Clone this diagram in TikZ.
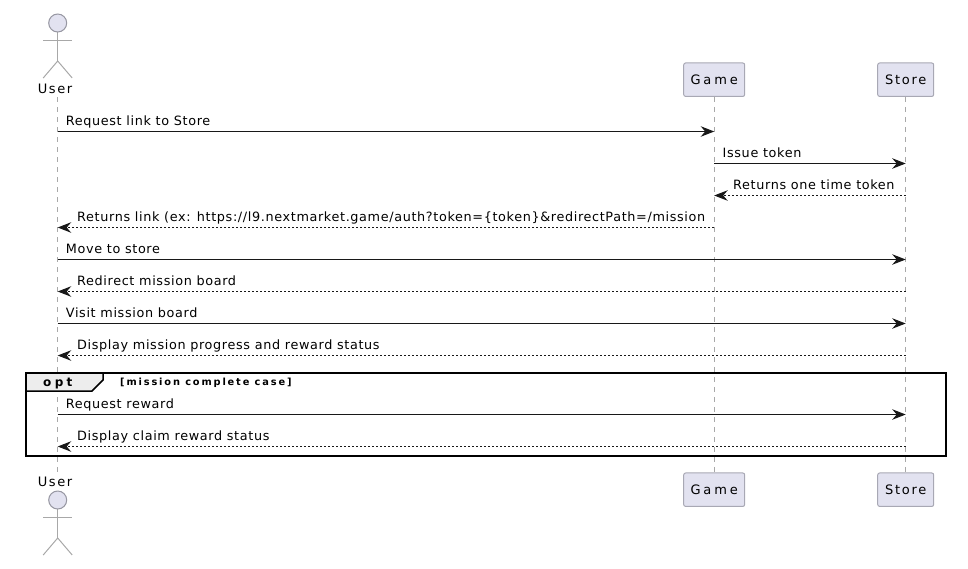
\documentclass[tikz,border=0pt]{standalone}
\usepackage{fontspec}
\setmainfont{DejaVu Sans}
\newfontfamily\msgfont[LetterSpace=5]{DejaVu Sans}
\newfontfamily\widefont[LetterSpace=22]{DejaVu Sans}
\newfontfamily\userfont[LetterSpace=12]{DejaVu Sans}
\newfontfamily\storefont[LetterSpace=13]{DejaVu Sans}
\newfontfamily\optfont[LetterSpace=28]{DejaVu Sans}
\newfontfamily\condfont[LetterSpace=19]{DejaVu Sans}
\usetikzlibrary{arrows.meta}
\definecolor{partfill}{HTML}{E2E2F0}
\definecolor{partline}{HTML}{A8A8B4}
\definecolor{lifegrey}{HTML}{A8A8A8}
\definecolor{msgblack}{HTML}{181818}
\tikzset{
	part/.style={draw=partline, fill=partfill, rounded corners=2pt, line width=1pt, minimum height=33.5pt, inner sep=0pt, text=black},
	life/.style={draw=lifegrey, line width=0.8pt, dash pattern=on 5pt off 5pt},
	stick/.style={draw=lifegrey, line width=1pt},
	msg/.style={draw=msgblack, line width=1pt, -{Stealth[length=13.5pt,width=10.5pt,inset=4.5pt]}},
	ret/.style={msg, dash pattern=on 2pt off 2pt},
	lbl/.style={anchor=base west, inner sep=0pt, text=black, font=\fontsize{12.8}{14}\msgfont},
}
\begin{document}
\begin{tikzpicture}[x=1pt, y=-1pt]
	\useasboundingbox (0, 0) rectangle (968, 568);

	%%%%% lifelines %%%%%
	\node[part, minimum width=61pt, font=\fontsize{13}{14}\widefont] (gametop) at (714.2, 79.7) {Game};
	\node[part, minimum width=56pt, font=\fontsize{13}{14}\storefont] (storetop) at (905.7, 79.7) {Store};
	\node[part, minimum width=61pt, font=\fontsize{13}{14}\widefont] (gamebot) at (714.2, 489.7) {Game};
	\node[part, minimum width=56pt, font=\fontsize{13}{14}\storefont] (storebot) at (905.7, 489.7) {Store};
	\node[anchor=base west, inner sep=0pt, font=\fontsize{13}{14}\userfont] (usertop) at (37.7, 93) {User};
	\node[anchor=base west, inner sep=0pt, font=\fontsize{13}{14}\userfont] (userbot) at (37.7, 486) {User};

	\coordinate (userstart) at (57.7, 97);
	\coordinate (userend) at (57.7, 472);
	\draw[life] (userstart) -- (userend);
	\draw[life] (gametop) -- (gamebot);
	\draw[life] (storetop) -- (storebot);

	%%%%% actors %%%%%
	\foreach \nm/\yy in {top/23, bot/500} {
		\draw[stick] (57.7, \yy+9) -- (57.7, \yy+38);
		\draw[stick] (43.2, \yy+17.5) -- (72.2, \yy+17.5);
		\draw[stick] (43.2, \yy+55) -- (57.7, \yy+38) -- (72.2, \yy+55);
		\node[circle, draw=partline!90!black, fill=partfill, line width=1pt, minimum size=18pt, inner sep=0pt] (head\nm) at (57.7, \yy) {};
	}

	%%%%% opt frame %%%%%
	\draw[fill=black!7, draw=none] (25.5, 372.5) -- (103, 372.5) -- (103, 380) -- (92, 391) -- (25.5, 391) -- cycle;
	\draw[line width=1.5pt] (103, 372.5) -- (103, 380) -- (92, 391) -- (25.5, 391);
	\draw[line width=2pt] (25.5, 372.5) rectangle (946, 455.5);
	\node[anchor=base west, inner sep=0pt, font=\fontsize{12}{14}\bfseries\optfont] (optlabel) at (43, 386.5) {opt};
	\node[anchor=base west, inner sep=0pt, font=\fontsize{9.8}{11}\bfseries\condfont] (optcond) at (120, 385) {[mission complete case]};

	%%%%% message ends %%%%%
	\foreach \rr/\yy in {1/131.5, 2/163.5, 3/195.5, 4/227.5, 5/259.5, 6/291.5, 7/323.5, 8/355.5, 9/414.5, 10/446.5} {
		\coordinate (user\rr) at (57.7, \yy);
		\coordinate (game\rr) at (714.2, \yy);
		\coordinate (store\rr) at (905.7, \yy);
	}

	\draw[msg] (user1) -- (game1);
	\draw[msg] (game2) -- (store2);
	\draw[ret] (store3) -- (game3);
	\draw[ret] (game4) -- (user4);
	\draw[msg] (user5) -- (store5);
	\draw[ret] (store6) -- (user6);
	\draw[msg] (user7) -- (store7);
	\draw[ret] (store8) -- (user8);
	\draw[msg] (user9) -- (store9);
	\draw[ret] (store10) -- (user10);

	%%%%% labels %%%%%
	\node[lbl] (msg1) at (65.7, 125.5) {Request link to Store};
	\node[lbl] (msg2) at (722.5, 157.5) {Issue token};
	\node[lbl] (msg3) at (733, 189.5) {Returns one time token};
	\node[lbl] (msg4) at (77, 221.5) {Returns link (ex: https://l9.nextmarket.game/auth?token=\{token\}\&redirectPath=/mission};
	\node[lbl] (msg5) at (65.7, 253.5) {Move to store};
	\node[lbl] (msg6) at (77, 285.5) {Redirect mission board};
	\node[lbl] (msg7) at (65.7, 317.5) {Visit mission board};
	\node[lbl] (msg8) at (77, 349.5) {Display mission progress and reward status};
	\node[lbl] (msg9) at (65.7, 408.5) {Request reward};
	\node[lbl] (msg10) at (77, 440.5) {Display claim reward status};
\end{tikzpicture}
\end{document}
